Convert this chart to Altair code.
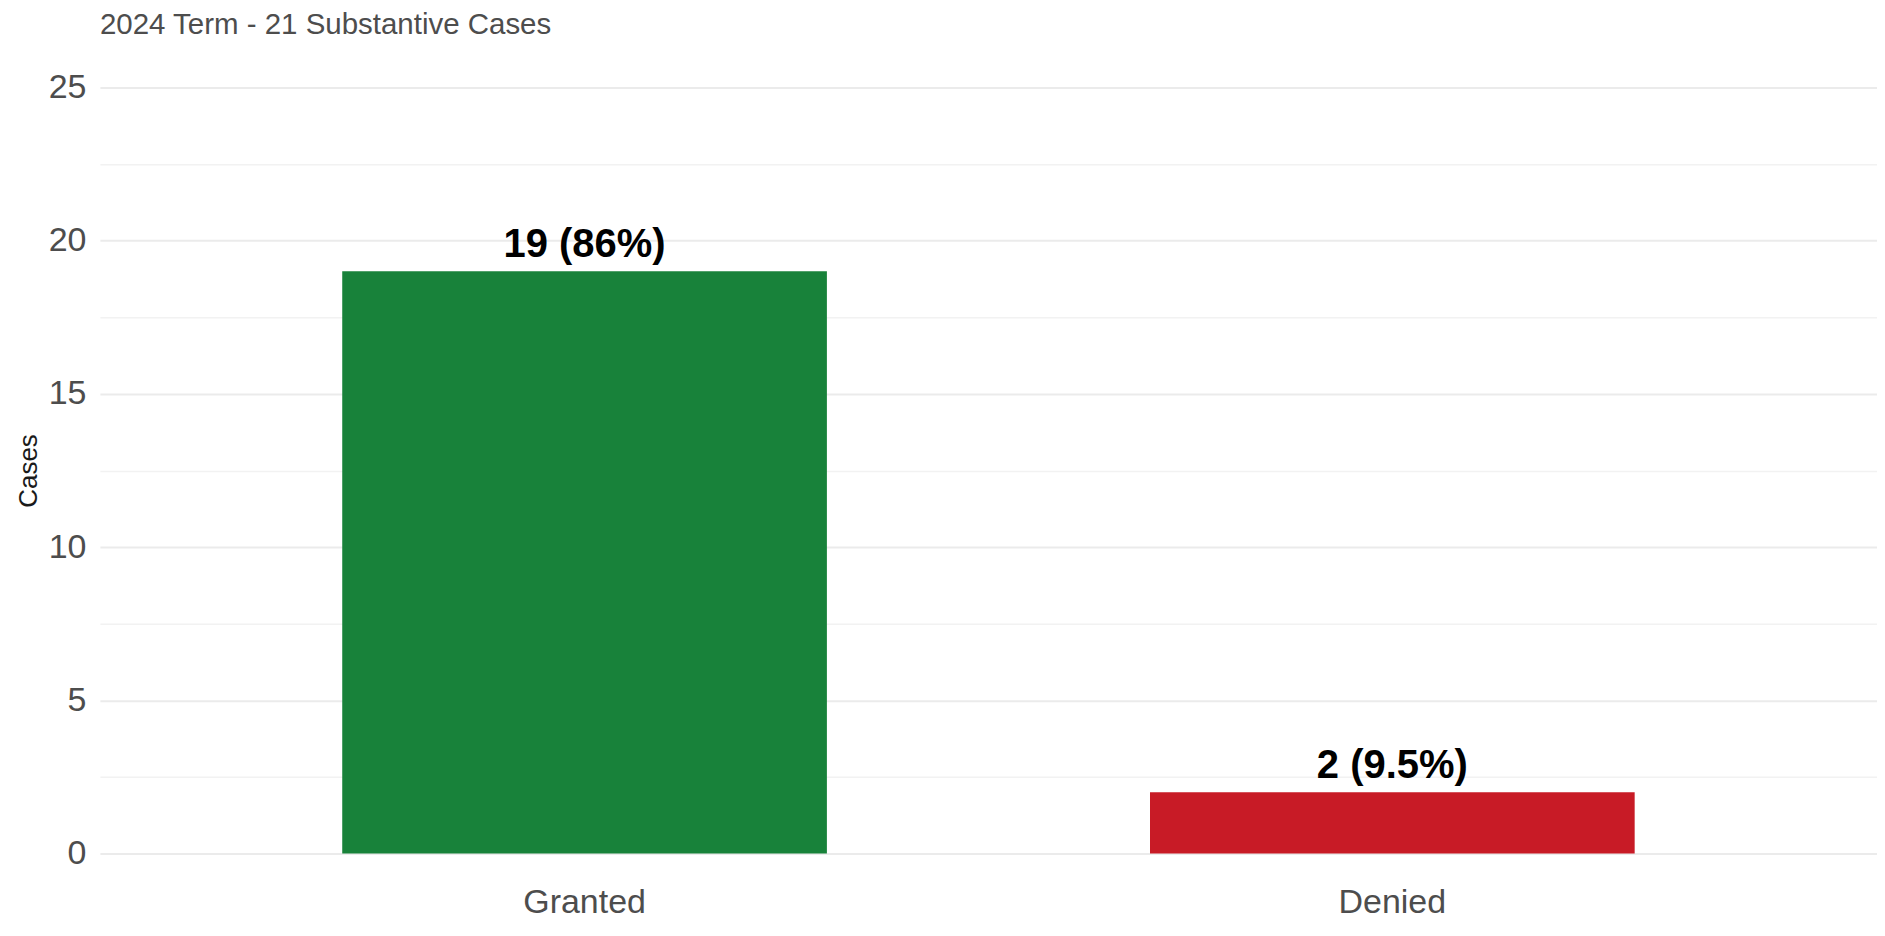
import altair as alt
import pandas as pd

categories = ["Granted", "Denied"]
counts = [19, 2]
labels = ["19 (86%)", "2 (9.5%)"]
bar_colors = ["#18823A", "#C81B26"]
y_ticks = [0, 2.5, 5, 7.5, 10, 12.5, 15, 17.5, 20, 22.5, 25]

df = pd.DataFrame({"outcome": categories, "cases": counts, "label": labels})

FONT = "Liberation Sans"

x_enc = alt.X(
    "outcome:N",
    sort=categories,
    title=None,
    scale=alt.Scale(paddingInner=0.4, paddingOuter=0.3),
    axis=alt.Axis(
        labelAngle=0,
        labelFontSize=34,
        labelColor="#4D4D4D",
        labelFont=FONT,
        labelBaseline="alphabetic",
        labelPadding=59,
        ticks=False,
        tickSize=0,
        domain=False,
        grid=False,
    ),
)

y_enc = alt.Y(
    "cases:Q",
    title="Cases",
    scale=alt.Scale(domain=[0, 25], nice=False),
    axis=alt.Axis(
        values=y_ticks,
        labelExpr="datum.value % 5 === 0 ? datum.label : ''",
        labelFontSize=34,
        labelColor="#4D4D4D",
        labelFont=FONT,
        labelPadding=14,
        ticks=False,
        tickSize=0,
        domain=False,
        grid=True,
        gridColor={"condition": {"test": "datum.value % 5 === 0", "value": "#EBEBEB"}, "value": "#F2F2F2"},
        gridWidth={"condition": {"test": "datum.value % 5 === 0", "value": 2}, "value": 1.5},
        titleFont=FONT,
        titleFontSize=26,
        titleFontWeight="normal",
        titleColor="#1A1A1A",
        titleBaseline="alphabetic",
        titleX=-63,
    ),
)

bars = alt.Chart(df).mark_bar().encode(
    x=x_enc,
    y=y_enc,
    color=alt.Color("outcome:N", scale=alt.Scale(domain=categories, range=bar_colors), legend=None),
)

text = alt.Chart(df).mark_text(
    font=FONT, fontSize=40, fontWeight="bold", color="black", baseline="alphabetic", dy=-14
).encode(
    x=alt.X("outcome:N", sort=categories),
    y=alt.Y("cases:Q"),
    text="label:N",
)

chart = (
    alt.layer(bars, text)
    .properties(
        width=1779,
        height=767,
        title=alt.TitleParams(
            "2024 Term - 21 Substantive Cases",
            anchor="start",
            frame="group",
            font=FONT,
            fontSize=29.5,
            fontWeight="normal",
            color="#4D4D4D",
            baseline="alphabetic",
            offset=6.5,
        ),
        padding={"left": 92, "top": 79, "right": 0, "bottom": 67},
        autosize="none",
    )
    .configure_view(stroke=None)
)

chart.save("out.html", embed_options={"renderer": "svg", "actions": False})
